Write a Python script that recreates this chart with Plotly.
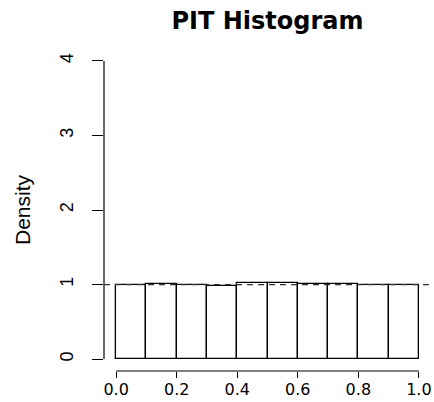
import plotly.graph_objects as go

# PIT histogram: 10 equal-width bins on [0, 1], heights as densities
bin_edges = [0.0, 0.1, 0.2, 0.3, 0.4, 0.5, 0.6, 0.7, 0.8, 0.9, 1.0]
densities = [1.000, 1.004, 0.990, 0.978, 1.016, 1.015, 1.005, 1.002, 0.990, 1.000]
uniform_density = 1.0

x_ticks = [0.0, 0.2, 0.4, 0.6, 0.8, 1.0]
x_tick_labels = ["0.0", "0.2", "0.4", "0.6", "0.8", "1.0"]
y_ticks = [0, 1, 2, 3, 4]
y_tick_labels = ["0", "1", "2", "3", "4"]

centers = [(a + b) / 2 for a, b in zip(bin_edges[:-1], bin_edges[1:])]
widths = [b - a for a, b in zip(bin_edges[:-1], bin_edges[1:])]

fig = go.Figure()
fig.add_trace(go.Bar(
    x=centers,
    y=densities,
    width=widths,
    marker=dict(color="white", line=dict(color="black", width=1.3)),
    hoverinfo="x+y",
    showlegend=False,
))

# axis lines span only the tick range, as in base R graphics
fig.add_shape(type="line", xref="paper", yref="y", x0=0, x1=0,
              y0=y_ticks[0], y1=y_ticks[-1], line=dict(color="black", width=1.2))
fig.add_shape(type="line", xref="x", yref="paper", x0=x_ticks[0], x1=x_ticks[-1],
              y0=0, y1=0, line=dict(color="black", width=1.2))

# reference line for a calibrated forecast
fig.add_hline(y=uniform_density, line=dict(color="#333333", width=1.2, dash="6px,5px"),
              layer="above")

fig.update_layout(
    width=434,
    height=402,
    margin=dict(l=104, r=3, t=49, b=31),
    paper_bgcolor="white",
    plot_bgcolor="white",
    bargap=0,
    title=dict(
        text="<b>PIT Histogram</b>",
        x=0.5, xref="paper", xanchor="center",
        y=1 - 21 / 402, yref="container", yanchor="middle",
        font=dict(family="DejaVu Sans", size=24, color="black"),
    ),
    xaxis=dict(
        range=[-0.04, 1.04],
        automargin=False,
        tickvals=x_ticks,
        ticktext=x_tick_labels,
        ticks="outside",
        ticklen=6,
        tickwidth=1.2,
        tickcolor="black",
        showline=False,
        showgrid=False,
        zeroline=False,
        tickfont=dict(family="DejaVu Sans", size=16, color="black"),
        ticklabelstandoff=-2,
    ),
    yaxis=dict(
        range=[-0.16, 4.16],
        automargin=False,
        tickvals=y_ticks,
        ticktext=y_tick_labels,
        tickangle=-90,
        ticks="outside",
        ticklen=11,
        tickwidth=1.2,
        tickcolor="black",
        showline=False,
        showgrid=False,
        zeroline=False,
        tickfont=dict(family="Liberation Sans Narrow, Liberation Sans", size=18, color="black"),
        ticklabelstandoff=12,
        title=dict(
            text="Density",
            standoff=20,
            font=dict(family="Liberation Sans Narrow, Liberation Sans", size=21, color="black"),
        ),
    ),
)

fig.write_html("out.html")
